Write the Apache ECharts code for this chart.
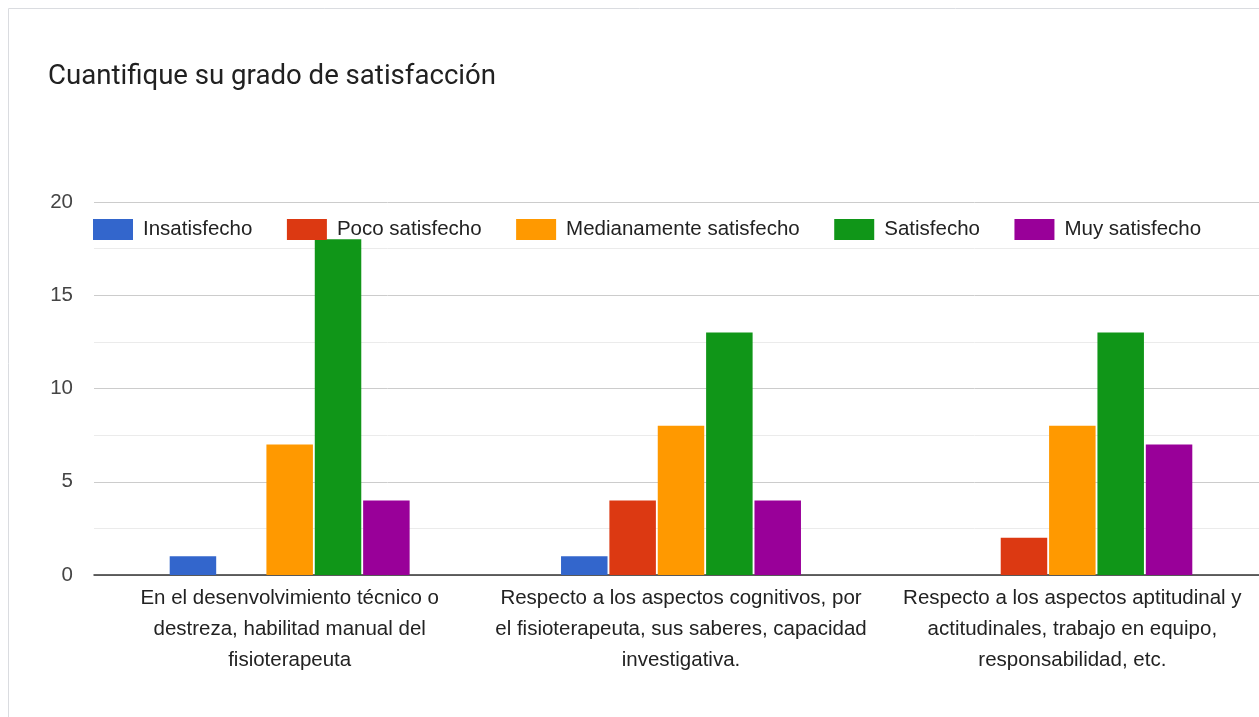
<!DOCTYPE html>
<html><head><meta charset="utf-8">
<script src="https://cdn.jsdelivr.net/npm/echarts@6/dist/echarts.min.js"></script>
<style>html,body{margin:0;padding:0;background:#fff;overflow:hidden;width:1259px;height:717px}#c{width:1270px;height:717px}</style>
</head><body><div id="c"></div>
<script>
const title = "Cuantifique su grado de satisfacción";
const categories = [
  "En el desenvolvimiento técnico o\ndestreza, habilitad manual del\nfisioterapeuta",
  "Respecto a los aspectos cognitivos, por\nel fisioterapeuta, sus saberes, capacidad\ninvestigativa.",
  "Respecto a los aspectos aptitudinal y\nactitudinales, trabajo en equipo,\nresponsabilidad, etc."
];
const seriesNames = ["Insatisfecho","Poco satisfecho","Medianamente satisfecho","Satisfecho","Muy satisfecho"];
const insatisfecho = [1, 1, 0];
const pocoSatisfecho = [0, 4, 2];
const medianamente = [7, 8, 8];
const satisfecho = [18, 13, 13];
const muySatisfecho = [4, 4, 7];
const colors = ["#3366cc","#dc3912","#ff9900","#109618","#990099"];
const values = [insatisfecho, pocoSatisfecho, medianamente, satisfecho, muySatisfecho];

const chart = echarts.init(document.getElementById('c'), null, {renderer:'canvas'});
const font = "Liberation Sans, Arial, sans-serif";
chart.setOption({
  animation:false,
  color: colors,
  graphic:[{type:'rect', z:-10, shape:{x:8.5,y:8.5,width:1400,height:900}, style:{fill:'none', stroke:'#dadce0', lineWidth:1}}],
  title:{text:title, left:43, top:58, textStyle:{fontFamily:'Roboto', fontSize:27.6, fontWeight:'normal', color:'#212121'}},
  legend:{left:88, top:214, itemWidth:40, itemHeight:21, itemGap:34.5, icon:'rect',
    textStyle:{fontFamily:font, fontSize:20.5, color:'#222', padding:[0,0,0,5]}},
  grid:{left:94, right:2, top:202, bottom:142, containLabel:false},
  xAxis:{type:'category', data:categories,
    axisLine:{lineStyle:{color:'#333', width:1.5}}, axisTick:{show:false},
    axisLabel:{interval:0, fontFamily:font, fontSize:20.5, color:'#222', lineHeight:31, margin:8}},
  yAxis:{type:'value', min:0, max:20, interval:5,
    axisLine:{show:false}, axisTick:{show:false},
    axisLabel:{fontFamily:font, fontSize:20.5, color:'#444', margin:21},
    splitLine:{lineStyle:{color:'#cccccc', width:1}},
    minorTick:{show:false, splitNumber:2},
    minorSplitLine:{show:true, lineStyle:{color:'#ebebeb', width:1}}},
  series: seriesNames.map((n,i)=>({name:n, type:'bar', data:values[i], barWidth:46.5, barGap:'4%'}))
});
</script></body></html>
